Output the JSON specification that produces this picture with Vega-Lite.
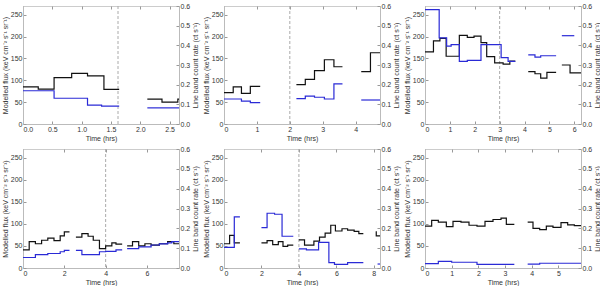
{
  "$schema": "https://vega.github.io/schema/vega-lite/v6.json",
  "padding": {"left": 0, "top": 1, "right": 0, "bottom": 0},
  "data": {"values": [
    {"p":1,"s":"d","g":0,"t":1.62,"v":0},
    {"p":1,"s":"f","g":1,"t":0,"v":85},{"p":1,"s":"f","g":1,"t":0.26,"v":80},{"p":1,"s":"f","g":1,"t":0.53,"v":106},{"p":1,"s":"f","g":1,"t":0.83,"v":116},{"p":1,"s":"f","g":1,"t":1.10,"v":110},{"p":1,"s":"f","g":1,"t":1.38,"v":79},{"p":1,"s":"f","g":1,"t":1.64,"v":79},
    {"p":1,"s":"f","g":2,"t":2.12,"v":57},{"p":1,"s":"f","g":2,"t":2.37,"v":50},{"p":1,"s":"f","g":2,"t":2.64,"v":57},{"p":1,"s":"f","g":2,"t":2.66,"v":57},
    {"p":1,"s":"r","g":1,"t":0,"v":0.169},{"p":1,"s":"r","g":1,"t":0.53,"v":0.131},{"p":1,"s":"r","g":1,"t":1.10,"v":0.096},{"p":1,"s":"r","g":1,"t":1.34,"v":0.091},{"p":1,"s":"r","g":1,"t":1.64,"v":0.091},
    {"p":1,"s":"r","g":2,"t":2.12,"v":0.082},{"p":1,"s":"r","g":2,"t":2.66,"v":0.082},

    {"p":2,"s":"d","g":0,"t":2.0,"v":0},
    {"p":2,"s":"f","g":1,"t":0,"v":72},{"p":2,"s":"f","g":1,"t":0.28,"v":85},{"p":2,"s":"f","g":1,"t":0.53,"v":70},{"p":2,"s":"f","g":1,"t":0.80,"v":86},{"p":2,"s":"f","g":1,"t":1.10,"v":86},
    {"p":2,"s":"f","g":2,"t":2.2,"v":90},{"p":2,"s":"f","g":2,"t":2.47,"v":102},{"p":2,"s":"f","g":2,"t":2.75,"v":122},{"p":2,"s":"f","g":2,"t":3.05,"v":147},{"p":2,"s":"f","g":2,"t":3.34,"v":131},{"p":2,"s":"f","g":2,"t":3.6,"v":131},
    {"p":2,"s":"f","g":3,"t":4.17,"v":120},{"p":2,"s":"f","g":3,"t":4.45,"v":163},{"p":2,"s":"f","g":3,"t":4.74,"v":163},
    {"p":2,"s":"r","g":1,"t":0,"v":0.127},{"p":2,"s":"r","g":1,"t":0.53,"v":0.116},{"p":2,"s":"r","g":1,"t":0.80,"v":0.109},{"p":2,"s":"r","g":1,"t":1.10,"v":0.109},
    {"p":2,"s":"r","g":2,"t":2.2,"v":0.129},{"p":2,"s":"r","g":2,"t":2.47,"v":0.142},{"p":2,"s":"r","g":2,"t":2.75,"v":0.136},{"p":2,"s":"r","g":2,"t":3.05,"v":0.127},{"p":2,"s":"r","g":2,"t":3.34,"v":0.204},{"p":2,"s":"r","g":2,"t":3.6,"v":0.204},
    {"p":2,"s":"r","g":3,"t":4.17,"v":0.122},{"p":2,"s":"r","g":3,"t":4.74,"v":0.122},

    {"p":3,"s":"d","g":0,"t":3.0,"v":0},
    {"p":3,"s":"f","g":1,"t":0,"v":165},{"p":3,"s":"f","g":1,"t":0.34,"v":190},{"p":3,"s":"f","g":1,"t":0.6,"v":196},{"p":3,"s":"f","g":1,"t":0.85,"v":155},{"p":3,"s":"f","g":1,"t":1.38,"v":203},{"p":3,"s":"f","g":1,"t":1.7,"v":198},{"p":3,"s":"f","g":1,"t":1.97,"v":201},{"p":3,"s":"f","g":1,"t":2.25,"v":186},{"p":3,"s":"f","g":1,"t":2.48,"v":154},{"p":3,"s":"f","g":1,"t":2.8,"v":140},{"p":3,"s":"f","g":1,"t":3.14,"v":137},{"p":3,"s":"f","g":1,"t":3.41,"v":144},{"p":3,"s":"f","g":1,"t":3.63,"v":144},
    {"p":3,"s":"f","g":2,"t":4.15,"v":120},{"p":3,"s":"f","g":2,"t":4.42,"v":115},{"p":3,"s":"f","g":2,"t":4.65,"v":105},{"p":3,"s":"f","g":2,"t":4.9,"v":118},{"p":3,"s":"f","g":2,"t":5.27,"v":118},
    {"p":3,"s":"f","g":3,"t":5.5,"v":135},{"p":3,"s":"f","g":3,"t":5.83,"v":117},{"p":3,"s":"f","g":3,"t":6.27,"v":117},
    {"p":3,"s":"r","g":1,"t":0,"v":0.582},{"p":3,"s":"r","g":1,"t":0.57,"v":0.438},{"p":3,"s":"r","g":1,"t":0.87,"v":0.396},{"p":3,"s":"r","g":1,"t":1.05,"v":0.404},{"p":3,"s":"r","g":1,"t":1.38,"v":0.318},{"p":3,"s":"r","g":1,"t":1.7,"v":0.324},{"p":3,"s":"r","g":1,"t":2.25,"v":0.404},{"p":3,"s":"r","g":1,"t":3.06,"v":0.338},{"p":3,"s":"r","g":1,"t":3.34,"v":0.318},{"p":3,"s":"r","g":1,"t":3.63,"v":0.318},
    {"p":3,"s":"r","g":2,"t":4.15,"v":0.351},{"p":3,"s":"r","g":2,"t":4.42,"v":0.34},{"p":3,"s":"r","g":2,"t":4.65,"v":0.347},{"p":3,"s":"r","g":2,"t":5.27,"v":0.347},
    {"p":3,"s":"r","g":3,"t":5.5,"v":0.449},{"p":3,"s":"r","g":3,"t":6.0,"v":0.449},

    {"p":4,"s":"d","g":0,"t":4.0,"v":0},
    {"p":4,"s":"f","g":1,"t":0,"v":41},{"p":4,"s":"f","g":1,"t":0.3,"v":60},{"p":4,"s":"f","g":1,"t":0.6,"v":55},{"p":4,"s":"f","g":1,"t":0.9,"v":63},{"p":4,"s":"f","g":1,"t":1.2,"v":68},{"p":4,"s":"f","g":1,"t":1.5,"v":62},{"p":4,"s":"f","g":1,"t":1.8,"v":73},{"p":4,"s":"f","g":1,"t":2.0,"v":82},{"p":4,"s":"f","g":1,"t":2.25,"v":82},
    {"p":4,"s":"f","g":2,"t":2.56,"v":70},{"p":4,"s":"f","g":2,"t":2.85,"v":78},{"p":4,"s":"f","g":2,"t":3.15,"v":72},{"p":4,"s":"f","g":2,"t":3.4,"v":63},{"p":4,"s":"f","g":2,"t":3.7,"v":44},{"p":4,"s":"f","g":2,"t":4.0,"v":50},{"p":4,"s":"f","g":2,"t":4.3,"v":57},{"p":4,"s":"f","g":2,"t":4.5,"v":54},{"p":4,"s":"f","g":2,"t":4.8,"v":54},
    {"p":4,"s":"f","g":3,"t":5.04,"v":50},{"p":4,"s":"f","g":3,"t":5.3,"v":60},{"p":4,"s":"f","g":3,"t":5.6,"v":50},{"p":4,"s":"f","g":3,"t":5.9,"v":55},{"p":4,"s":"f","g":3,"t":6.2,"v":52},{"p":4,"s":"f","g":3,"t":6.6,"v":55},{"p":4,"s":"f","g":3,"t":7.0,"v":60},{"p":4,"s":"f","g":3,"t":7.3,"v":55},{"p":4,"s":"f","g":3,"t":7.55,"v":55},
    {"p":4,"s":"r","g":1,"t":0,"v":0.053},{"p":4,"s":"r","g":1,"t":0.6,"v":0.067},{"p":4,"s":"r","g":1,"t":1.2,"v":0.073},{"p":4,"s":"r","g":1,"t":1.8,"v":0.082},{"p":4,"s":"r","g":1,"t":2.0,"v":0.089},{"p":4,"s":"r","g":1,"t":2.25,"v":0.089},
    {"p":4,"s":"r","g":2,"t":2.56,"v":0.089},{"p":4,"s":"r","g":2,"t":2.85,"v":0.067},{"p":4,"s":"r","g":2,"t":3.7,"v":0.082},{"p":4,"s":"r","g":2,"t":4.0,"v":0.084},{"p":4,"s":"r","g":2,"t":4.5,"v":0.091},{"p":4,"s":"r","g":2,"t":4.8,"v":0.091},
    {"p":4,"s":"r","g":3,"t":5.04,"v":0.098},{"p":4,"s":"r","g":3,"t":5.6,"v":0.107},{"p":4,"s":"r","g":3,"t":6.2,"v":0.116},{"p":4,"s":"r","g":3,"t":6.6,"v":0.122},{"p":4,"s":"r","g":3,"t":7.0,"v":0.127},{"p":4,"s":"r","g":3,"t":7.2,"v":0.133},{"p":4,"s":"r","g":3,"t":7.55,"v":0.133},

    {"p":5,"s":"d","g":0,"t":4.0,"v":0},
    {"p":5,"s":"f","g":1,"t":0,"v":55},{"p":5,"s":"f","g":1,"t":0.3,"v":74},{"p":5,"s":"f","g":1,"t":0.55,"v":57},{"p":5,"s":"f","g":1,"t":0.85,"v":57},
    {"p":5,"s":"f","g":2,"t":2.0,"v":57},{"p":5,"s":"f","g":2,"t":2.3,"v":62},{"p":5,"s":"f","g":2,"t":2.6,"v":53},{"p":5,"s":"f","g":2,"t":2.9,"v":60},{"p":5,"s":"f","g":2,"t":3.15,"v":49},{"p":5,"s":"f","g":2,"t":3.4,"v":52},{"p":5,"s":"f","g":2,"t":3.7,"v":52},
    {"p":5,"s":"f","g":3,"t":4.0,"v":64},{"p":5,"s":"f","g":3,"t":4.3,"v":52},{"p":5,"s":"f","g":3,"t":4.8,"v":61},{"p":5,"s":"f","g":3,"t":5.1,"v":70},{"p":5,"s":"f","g":3,"t":5.4,"v":79},{"p":5,"s":"f","g":3,"t":5.7,"v":97},{"p":5,"s":"f","g":3,"t":5.95,"v":84},{"p":5,"s":"f","g":3,"t":6.3,"v":89},{"p":5,"s":"f","g":3,"t":6.6,"v":86},{"p":5,"s":"f","g":3,"t":6.95,"v":83},{"p":5,"s":"f","g":3,"t":7.2,"v":78},{"p":5,"s":"f","g":3,"t":7.44,"v":78},
    {"p":5,"s":"f","g":4,"t":8.1,"v":82},{"p":5,"s":"f","g":4,"t":8.13,"v":73},{"p":5,"s":"f","g":4,"t":8.33,"v":73},
    {"p":5,"s":"r","g":1,"t":0,"v":0.104},{"p":5,"s":"r","g":1,"t":0.55,"v":0.258},{"p":5,"s":"r","g":1,"t":0.85,"v":0.258},
    {"p":5,"s":"r","g":2,"t":2.0,"v":0.204},{"p":5,"s":"r","g":2,"t":2.3,"v":0.276},{"p":5,"s":"r","g":2,"t":2.7,"v":0.271},{"p":5,"s":"r","g":2,"t":3.1,"v":0.16},{"p":5,"s":"r","g":2,"t":3.7,"v":0.16},
    {"p":5,"s":"r","g":3,"t":4.0,"v":0.096},{"p":5,"s":"r","g":3,"t":4.4,"v":0.091},{"p":5,"s":"r","g":3,"t":5.05,"v":0.129},{"p":5,"s":"r","g":3,"t":5.6,"v":0.027},{"p":5,"s":"r","g":3,"t":5.9,"v":0.018},{"p":5,"s":"r","g":3,"t":6.6,"v":0.027},{"p":5,"s":"r","g":3,"t":7.44,"v":0.027},
    {"p":5,"s":"r","g":4,"t":8.2,"v":0.02},{"p":5,"s":"r","g":4,"t":8.33,"v":0.02},

    {"p":6,"s":"f","g":1,"t":0,"v":95},{"p":6,"s":"f","g":1,"t":0.25,"v":108},{"p":6,"s":"f","g":1,"t":0.5,"v":104},{"p":6,"s":"f","g":1,"t":0.8,"v":94},{"p":6,"s":"f","g":1,"t":1.05,"v":106},{"p":6,"s":"f","g":1,"t":1.35,"v":104},{"p":6,"s":"f","g":1,"t":1.65,"v":97},{"p":6,"s":"f","g":1,"t":1.95,"v":95},{"p":6,"s":"f","g":1,"t":2.25,"v":106},{"p":6,"s":"f","g":1,"t":2.55,"v":110},{"p":6,"s":"f","g":1,"t":2.85,"v":113},{"p":6,"s":"f","g":1,"t":3.05,"v":99},{"p":6,"s":"f","g":1,"t":3.35,"v":99},
    {"p":6,"s":"f","g":2,"t":3.85,"v":104},{"p":6,"s":"f","g":2,"t":4.05,"v":90},{"p":6,"s":"f","g":2,"t":4.3,"v":87},{"p":6,"s":"f","g":2,"t":4.55,"v":95},{"p":6,"s":"f","g":2,"t":4.8,"v":92},{"p":6,"s":"f","g":2,"t":5.1,"v":103},{"p":6,"s":"f","g":2,"t":5.35,"v":98},{"p":6,"s":"f","g":2,"t":5.6,"v":96},{"p":6,"s":"f","g":2,"t":5.85,"v":96},
    {"p":6,"s":"r","g":1,"t":0,"v":0.022},{"p":6,"s":"r","g":1,"t":0.5,"v":0.033},{"p":6,"s":"r","g":1,"t":1.0,"v":0.029},{"p":6,"s":"r","g":1,"t":1.95,"v":0.018},{"p":6,"s":"r","g":1,"t":3.35,"v":0.018},
    {"p":6,"s":"r","g":2,"t":3.85,"v":0.02},{"p":6,"s":"r","g":2,"t":4.3,"v":0.024},{"p":6,"s":"r","g":2,"t":5.85,"v":0.024}
  ]},
  "columns": 3,
  "spacing": {"row": 25, "column": 45},
  "bounds": "flush",
  "concat": [
    {"width": 156, "height": 118, "transform": [{"filter": "datum.p == 1"}], "resolve": {"scale": {"y": "independent"}, "axis": {"x": "independent"}},
     "layer": [
      {"transform": [{"filter": "datum.s == 'd'"}], "mark": {"type": "rule", "color": "#aaaaaa", "strokeDash": [3, 2]}, "encoding": {"x": {"field": "t", "type": "quantitative", "axis": null}}},
      {"transform": [{"filter": "datum.s == 'f'"}], "mark": {"type": "line", "interpolate": "step-after", "color": "#111111", "strokeWidth": 1.2}, "encoding": {
        "x": {"field": "t", "type": "quantitative", "scale": {"domain": [0, 2.66], "nice": false}, "axis": {"title": "Time (hrs)", "tickCount": 5}},
        "y": {"field": "v", "type": "quantitative", "scale": {"domain": [0, 270], "nice": false}, "axis": {"title": "Modelled flux (keV cm⁻² s⁻¹ sr⁻¹)", "values": [0, 50, 100, 150, 200, 250]}},
        "detail": {"field": "g"}}},
      {"transform": [{"filter": "datum.s == 'r'"}], "mark": {"type": "line", "interpolate": "step-after", "color": "#2a2ad6", "strokeWidth": 1.2}, "encoding": {
        "x": {"field": "t", "type": "quantitative", "axis": {"orient": "top", "labels": false, "title": null, "domain": false, "tickCount": 5}},
        "y": {"field": "v", "type": "quantitative", "scale": {"domain": [0, 0.6], "nice": false}, "axis": {"orient": "right", "title": "Line band count rate (ct s⁻¹)", "titleAngle": -90, "titleBaseline": "top", "values": [0, 0.1, 0.2, 0.3, 0.4, 0.5, 0.6], "format": ".1f"}},
        "detail": {"field": "g"}}}
    ]},
    {"width": 156, "height": 118, "transform": [{"filter": "datum.p == 2"}], "resolve": {"scale": {"y": "independent"}, "axis": {"x": "independent"}},
     "layer": [
      {"transform": [{"filter": "datum.s == 'd'"}], "mark": {"type": "rule", "color": "#aaaaaa", "strokeDash": [3, 2]}, "encoding": {"x": {"field": "t", "type": "quantitative", "axis": null}}},
      {"transform": [{"filter": "datum.s == 'f'"}], "mark": {"type": "line", "interpolate": "step-after", "color": "#111111", "strokeWidth": 1.2}, "encoding": {
        "x": {"field": "t", "type": "quantitative", "scale": {"domain": [0, 4.74], "nice": false}, "axis": {"title": "Time (hrs)", "tickCount": 5}},
        "y": {"field": "v", "type": "quantitative", "scale": {"domain": [0, 270], "nice": false}, "axis": {"title": "Modelled flux (keV cm⁻² s⁻¹ sr⁻¹)", "values": [0, 50, 100, 150, 200, 250]}},
        "detail": {"field": "g"}}},
      {"transform": [{"filter": "datum.s == 'r'"}], "mark": {"type": "line", "interpolate": "step-after", "color": "#2a2ad6", "strokeWidth": 1.2}, "encoding": {
        "x": {"field": "t", "type": "quantitative", "axis": {"orient": "top", "labels": false, "title": null, "domain": false, "tickCount": 5}},
        "y": {"field": "v", "type": "quantitative", "scale": {"domain": [0, 0.6], "nice": false}, "axis": {"orient": "right", "title": "Line band count rate (ct s⁻¹)", "titleAngle": -90, "titleBaseline": "top", "values": [0, 0.1, 0.2, 0.3, 0.4, 0.5, 0.6], "format": ".1f"}},
        "detail": {"field": "g"}}}
    ]},
    {"width": 156, "height": 118, "transform": [{"filter": "datum.p == 3"}], "resolve": {"scale": {"y": "independent"}, "axis": {"x": "independent"}},
     "layer": [
      {"transform": [{"filter": "datum.s == 'd'"}], "mark": {"type": "rule", "color": "#aaaaaa", "strokeDash": [3, 2]}, "encoding": {"x": {"field": "t", "type": "quantitative", "axis": null}}},
      {"transform": [{"filter": "datum.s == 'f'"}], "mark": {"type": "line", "interpolate": "step-after", "color": "#111111", "strokeWidth": 1.2}, "encoding": {
        "x": {"field": "t", "type": "quantitative", "scale": {"domain": [0, 6.27], "nice": false}, "axis": {"title": "Time (hrs)", "tickCount": 5}},
        "y": {"field": "v", "type": "quantitative", "scale": {"domain": [0, 270], "nice": false}, "axis": {"title": "Modelled flux (keV cm⁻² s⁻¹ sr⁻¹)", "values": [0, 50, 100, 150, 200, 250]}},
        "detail": {"field": "g"}}},
      {"transform": [{"filter": "datum.s == 'r'"}], "mark": {"type": "line", "interpolate": "step-after", "color": "#2a2ad6", "strokeWidth": 1.2}, "encoding": {
        "x": {"field": "t", "type": "quantitative", "axis": {"orient": "top", "labels": false, "title": null, "domain": false, "tickCount": 5}},
        "y": {"field": "v", "type": "quantitative", "scale": {"domain": [0, 0.6], "nice": false}, "axis": {"orient": "right", "title": "Line band count rate (ct s⁻¹)", "titleAngle": -90, "titleBaseline": "top", "values": [0, 0.1, 0.2, 0.3, 0.4, 0.5, 0.6], "format": ".1f"}},
        "detail": {"field": "g"}}}
    ]},
    {"width": 156, "height": 119, "transform": [{"filter": "datum.p == 4"}], "resolve": {"scale": {"y": "independent"}, "axis": {"x": "independent"}},
     "layer": [
      {"transform": [{"filter": "datum.s == 'd'"}], "mark": {"type": "rule", "color": "#aaaaaa", "strokeDash": [3, 2]}, "encoding": {"x": {"field": "t", "type": "quantitative", "axis": null}}},
      {"transform": [{"filter": "datum.s == 'f'"}], "mark": {"type": "line", "interpolate": "step-after", "color": "#111111", "strokeWidth": 1.2}, "encoding": {
        "x": {"field": "t", "type": "quantitative", "scale": {"domain": [0, 7.55], "nice": false}, "axis": {"title": "Time (hrs)", "tickCount": 5}},
        "y": {"field": "v", "type": "quantitative", "scale": {"domain": [0, 270], "nice": false}, "axis": {"title": "Modelled flux (keV cm⁻² s⁻¹ sr⁻¹)", "values": [0, 50, 100, 150, 200, 250]}},
        "detail": {"field": "g"}}},
      {"transform": [{"filter": "datum.s == 'r'"}], "mark": {"type": "line", "interpolate": "step-after", "color": "#2a2ad6", "strokeWidth": 1.2}, "encoding": {
        "x": {"field": "t", "type": "quantitative", "axis": {"orient": "top", "labels": false, "title": null, "domain": false, "tickCount": 5}},
        "y": {"field": "v", "type": "quantitative", "scale": {"domain": [0, 0.6], "nice": false}, "axis": {"orient": "right", "title": "Line band count rate (ct s⁻¹)", "titleAngle": -90, "titleBaseline": "top", "values": [0, 0.1, 0.2, 0.3, 0.4, 0.5, 0.6], "format": ".1f"}},
        "detail": {"field": "g"}}}
    ]},
    {"width": 156, "height": 119, "transform": [{"filter": "datum.p == 5"}], "resolve": {"scale": {"y": "independent"}, "axis": {"x": "independent"}},
     "layer": [
      {"transform": [{"filter": "datum.s == 'd'"}], "mark": {"type": "rule", "color": "#aaaaaa", "strokeDash": [3, 2]}, "encoding": {"x": {"field": "t", "type": "quantitative", "axis": null}}},
      {"transform": [{"filter": "datum.s == 'f'"}], "mark": {"type": "line", "interpolate": "step-after", "color": "#111111", "strokeWidth": 1.2}, "encoding": {
        "x": {"field": "t", "type": "quantitative", "scale": {"domain": [0, 8.33], "nice": false}, "axis": {"title": "Time (hrs)", "tickCount": 5}},
        "y": {"field": "v", "type": "quantitative", "scale": {"domain": [0, 270], "nice": false}, "axis": {"title": "Modelled flux (keV cm⁻² s⁻¹ sr⁻¹)", "values": [0, 50, 100, 150, 200, 250]}},
        "detail": {"field": "g"}}},
      {"transform": [{"filter": "datum.s == 'r'"}], "mark": {"type": "line", "interpolate": "step-after", "color": "#2a2ad6", "strokeWidth": 1.2}, "encoding": {
        "x": {"field": "t", "type": "quantitative", "axis": {"orient": "top", "labels": false, "title": null, "domain": false, "tickCount": 5}},
        "y": {"field": "v", "type": "quantitative", "scale": {"domain": [0, 0.6], "nice": false}, "axis": {"orient": "right", "title": "Line band count rate (ct s⁻¹)", "titleAngle": -90, "titleBaseline": "top", "values": [0, 0.1, 0.2, 0.3, 0.4, 0.5, 0.6], "format": ".1f"}},
        "detail": {"field": "g"}}}
    ]},
    {"width": 156, "height": 119, "transform": [{"filter": "datum.p == 6"}], "resolve": {"scale": {"y": "independent"}, "axis": {"x": "independent"}},
     "layer": [
      {"transform": [{"filter": "datum.s == 'f'"}], "mark": {"type": "line", "interpolate": "step-after", "color": "#111111", "strokeWidth": 1.2}, "encoding": {
        "x": {"field": "t", "type": "quantitative", "scale": {"domain": [0, 5.85], "nice": false}, "axis": {"title": "Time (hrs)", "tickCount": 5}},
        "y": {"field": "v", "type": "quantitative", "scale": {"domain": [0, 270], "nice": false}, "axis": {"title": "Modelled flux (keV cm⁻² s⁻¹ sr⁻¹)", "values": [0, 50, 100, 150, 200, 250]}},
        "detail": {"field": "g"}}},
      {"transform": [{"filter": "datum.s == 'r'"}], "mark": {"type": "line", "interpolate": "step-after", "color": "#2a2ad6", "strokeWidth": 1.2}, "encoding": {
        "x": {"field": "t", "type": "quantitative", "axis": {"orient": "top", "labels": false, "title": null, "domain": false, "tickCount": 5}},
        "y": {"field": "v", "type": "quantitative", "scale": {"domain": [0, 0.6], "nice": false}, "axis": {"orient": "right", "title": "Line band count rate (ct s⁻¹)", "titleAngle": -90, "titleBaseline": "top", "values": [0, 0.1, 0.2, 0.3, 0.4, 0.5, 0.6], "format": ".1f"}},
        "detail": {"field": "g"}}}
    ]}
  ],
  "config": {
    "view": {"stroke": "#cccccc"},
    "axis": {"labelFontSize": 7, "titleFontSize": 7, "titleFontWeight": "normal", "labelFont": "Liberation Sans", "titleFont": "Liberation Sans", "labelColor": "#333333", "titleColor": "#333333", "domainColor": "#bbbbbb", "tickColor": "#999999", "tickSize": -3, "labelPadding": 4, "titlePadding": 2, "grid": false}
  }
}
